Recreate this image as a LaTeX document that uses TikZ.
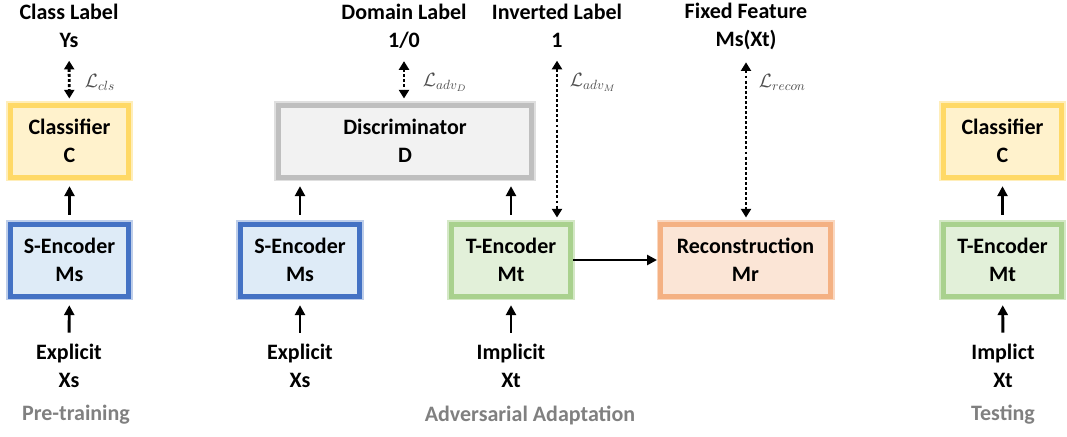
\documentclass[tikz,border=0pt]{standalone}
\usepackage{fontspec}
\setmainfont{Carlito}
\usetikzlibrary{arrows.meta}

\definecolor{clsfill}{RGB}{255,242,204}
\definecolor{clsdraw}{RGB}{255,217,102}
\definecolor{sencfill}{RGB}{222,235,247}
\definecolor{sencdraw}{RGB}{68,114,196}
\definecolor{tencfill}{RGB}{226,240,217}
\definecolor{tencdraw}{RGB}{169,209,142}
\definecolor{discfill}{RGB}{242,242,242}
\definecolor{discdraw}{RGB}{191,191,191}
\definecolor{recfill}{RGB}{251,229,214}
\definecolor{recdraw}{RGB}{244,177,131}
\definecolor{phasegray}{RGB}{128,128,128}

\tikzset{every picture/.style={line width=0.75pt},
  module/.style={draw, line width=3.75pt, minimum width=89pt, minimum height=54pt, align=center, font=\bfseries\fontsize{16.5}{21}\selectfont},
  clsbox/.style={module, draw=clsdraw, fill=clsfill, preaction={draw=clsdraw!45, line width=6.5pt}},
  sencbox/.style={module, draw=sencdraw, fill=sencfill, preaction={draw=sencdraw!35, line width=6.5pt}},
  tencbox/.style={module, draw=tencdraw, fill=tencfill, preaction={draw=tencdraw!50, line width=6.5pt}},
  discbox/.style={module, draw=discdraw, fill=discfill, minimum width=190pt, preaction={draw=discdraw!50, line width=6.5pt}},
  recbox/.style={module, draw=recdraw, fill=recfill, minimum width=127pt, preaction={draw=recdraw!50, line width=6.5pt}},
  caption/.style={align=center, font=\bfseries\fontsize{16.5}{21}\selectfont},
  phase/.style={font=\bfseries\fontsize{16.5}{21}\selectfont, text=phasegray},
  loss/.style={anchor=west, font=\fontsize{14}{16}\selectfont, text=black!70},
  feed/.style={-{Triangle[length=7.5pt,width=7.5pt]}, line width=2.2pt, shorten <=5pt, shorten >=5pt},
  supervise/.style={{Triangle[length=6.5pt,width=7.5pt]}-{Triangle[length=6.5pt,width=7.5pt]}, line width=2.2pt, dash pattern=on 2.2pt off 1.6pt, shorten <=6pt, shorten >=3pt},
}

\begin{document}
\begin{tikzpicture}[x=0.75pt,y=0.75pt,yscale=-1]
        \useasboundingbox (0,0) rectangle (1067,436);
        % pre-training
        \node [caption] (ys) at (69,26) {Class Label\\Ys};
        \node [clsbox] (cls1) at (69.5,141) {Classifier\\C};
        \node [sencbox] (senc1) at (69.5,260) {S-Encoder\\Ms};
        \node [caption] (xs1) at (69,366) {Explicit\\Xs};
        \node [phase] (pre) at (76,415) {Pre-training};
        \node [loss] (lcls) at (80,82) {$\mathcal{L}_{cls}$};
        \draw [feed] (xs1) -- (senc1);
        \draw [feed] (senc1) -- (cls1);
        \draw [supervise] (ys) -- (cls1);
        % adversarial adaptation
        \node [caption] (dom) at (404,26) {Domain Label\\1/0};
        \node [caption] (inv) at (557,26) {Inverted Label\\1};
        \node [caption] (fix) at (746,26) {Fixed Feature\\Ms(Xt)};
        \node [discbox] (disc) at (405,141) {Discriminator\\D};
        \node [sencbox] (senc2) at (300,260) {S-Encoder\\Ms};
        \node [tencbox] (tenc2) at (511,260) {T-Encoder\\Mt};
        \node [recbox] (rec) at (745.5,260) {Reconstruction\\Mr};
        \node [caption] (xs2) at (300,366) {Explicit\\Xs};
        \node [caption] (xt2) at (511,366) {Implicit\\Xt};
        \node [phase] (adv) at (530,415) {Adversarial Adaptation};
        \node [loss] (ladvd) at (418,82) {$\mathcal{L}_{adv_D}$};
        \node [loss] (ladvm) at (565,82) {$\mathcal{L}_{adv_M}$};
        \node [loss] (lrec) at (754,82) {$\mathcal{L}_{recon}$};
        \draw [feed] (xs2) -- (senc2);
        \draw [feed] (xt2) -- (tenc2);
        \draw [feed] (senc2.north) -- (senc2.north |- disc.south);
        \draw [feed] (tenc2.north) -- (tenc2.north |- disc.south);
        \draw [feed, shorten <=0pt, shorten >=1pt] (tenc2.east) -- (rec.west);
        \draw [supervise] (dom.south) -- (dom.south |- disc.north);
        \draw [supervise] (inv.south) -- (inv.south |- tenc2.north);
        \draw [supervise] (fix.south) -- (fix.south |- rec.north);
        % testing
        \node [clsbox] (cls3) at (1002.5,141) {Classifier\\C};
        \node [tencbox] (tenc3) at (1002.5,260) {T-Encoder\\Mt};
        \node [caption] (xt3) at (1003,366) {Implict\\Xt};
        \node [phase] (test) at (1003,415) {Testing};
        \draw [feed] (xt3) -- (tenc3);
        \draw [feed] (tenc3) -- (cls3);
    \end{tikzpicture}
\end{document}
